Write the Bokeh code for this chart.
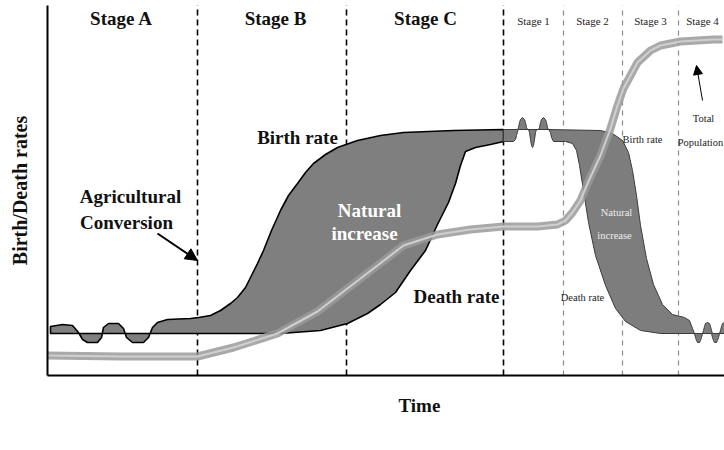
import numpy as np
from bokeh.plotting import figure
from bokeh.models import Range1d, Arrow, NormalHead, Title
from bokeh.core.properties import value
from bokeh.embed import file_html
from bokeh.resources import INLINE

# ---------------- data (time units / rate units) ----------------
major_stage_bounds = [150, 299, 456]
minor_stage_bounds = [516, 575, 631]
major_stage_names = ["Stage A", "Stage B", "Stage C"]
minor_stage_names = ["Stage 1", "Stage 2", "Stage 3", "Stage 4"]

# Left diagram (stages A-C)
birth_left_t = [3, 15, 25, 31, 35, 40, 50, 54, 56, 61, 71, 76, 79, 85, 96, 101, 105, 110, 120, 143,
                151, 163, 173, 183, 190, 198, 203, 210, 216, 224, 233, 241, 250, 258, 266, 278, 290,
                310, 333, 356, 406, 456]
birth_left_r = [49, 51, 50, 43, 36, 33, 33, 38, 48, 52, 52, 47, 38, 33, 33, 38, 48, 53, 56, 57,
                58, 60, 65, 72, 78, 88, 98, 112, 125, 145, 165, 180, 192, 203, 212, 221, 228,
                235, 240, 243, 245, 246]
death_left_t = [3, 153, 233, 273, 300, 320, 333, 348, 363, 378, 390, 401, 408, 413, 418, 428, 443, 456]
death_left_r = [42, 42, 42, 45, 52, 62, 71, 83, 105, 125, 151, 173, 192, 210, 224, 228, 231, 234]

# Right diagram (stages 1-4)
birth_right_t = [456, 470, 471, 472, 473, 475, 477, 478, 479, 480, 491, 492, 493, 494, 496, 498, 499,
                 500, 501, 553, 565, 575, 581, 585, 589, 593, 599, 606, 615, 625, 637, 642, 645, 647,
                 655, 656, 657, 658, 660, 662, 663, 664, 665, 672, 673, 674, 675, 677]
birth_right_r = [246, 246, 248, 253, 256, 258, 256, 253, 248, 246, 246, 248, 253, 256, 258, 256, 253,
                 248, 246, 245, 242, 235, 223, 205, 180, 150, 117, 91, 71, 61, 58, 55, 47, 42,
                 42, 45, 49, 52, 53, 52, 49, 45, 42, 42, 45, 49, 52, 53]
death_right_t = [456, 466, 468, 469, 470, 471, 481, 482, 483, 484, 485, 486, 487, 488, 489, 501, 503,
                 504, 506, 518, 525, 529, 532, 536, 541, 548, 558, 568, 578, 593, 613, 647, 648, 649,
                 650, 652, 653, 654, 655, 664, 665, 666, 667, 669, 670, 671, 672, 677]
death_right_r = [234, 234, 236, 240, 244, 246, 246, 243, 236, 230, 228, 230, 236, 243, 246, 246, 243,
                 238, 234, 234, 232, 225, 210, 185, 153, 120, 90, 67, 54, 45, 42, 42, 38, 35,
                 33, 33, 35, 38, 42, 42, 38, 35, 33, 33, 35, 38, 42, 42]

# Total population
pop_t = [0, 73, 150, 186, 230, 270, 313, 356, 390, 423, 456, 490, 510, 518, 525, 533, 540, 553,
         563, 570, 576, 590, 603, 613, 633, 666, 675]
pop_r = [20, 19, 19, 28, 42, 64, 97, 130, 141, 146, 149, 149, 151, 155, 163, 175, 192, 220,
         247, 270, 287, 313, 325, 330, 334, 336, 336]

# ---------------- figure ----------------
FONT = "Liberation Serif"
serif = value(FONT)

p = figure(width=724, height=446, x_range=Range1d(0, 677), y_range=Range1d(0, 370),
           output_backend="svg", toolbar_location=None,
           min_border_left=47, min_border_right=0, min_border_top=5, min_border_bottom=71)
p.outline_line_color = None
p.grid.visible = False
p.background_fill_color = "white"
for ax in (p.xaxis[0], p.yaxis[0]):
    ax.major_tick_line_color = None
    ax.minor_tick_line_color = None
    ax.major_tick_out = 0
    ax.major_tick_in = 0
    ax.major_label_standoff = 0
    ax.major_label_text_font_size = "0px"
    ax.major_label_text_color = None
    ax.axis_line_color = "black"
    ax.axis_line_width = 2

p.yaxis.axis_label = "Birth/Death rates"
p.yaxis.axis_label_text_font = FONT
p.yaxis.axis_label_text_font_style = "bold"
p.yaxis.axis_label_text_font_size = "20px"
p.yaxis.axis_label_text_color = "#111111"
p.yaxis.axis_label_standoff = 13

p.add_layout(Title(text="Time", align="left", offset=351, text_font=FONT, text_font_style="bold",
                   text_font_size="19px", text_color="#111111", standoff=26), "below")

# stage boundary dashed lines
p.segment(x0=major_stage_bounds, y0=[0] * 3, x1=major_stage_bounds, y1=[372] * 3,
          line_color="black", line_width=1.6, line_dash="6 4")
p.segment(x0=minor_stage_bounds, y0=[0] * 3, x1=minor_stage_bounds, y1=[372] * 3,
          line_color="#8a8a8a", line_width=1.2, line_dash="5 5")

# natural increase areas
left_x = list(birth_left_t) + list(death_left_t[::-1])
left_y = list(birth_left_r) + list(death_left_r[::-1])
p.patch(left_x, left_y, fill_color="#7f7f7f", line_color="black", line_width=1.6)

right_x = list(birth_right_t) + list(death_right_t[::-1])
right_y = list(birth_right_r) + list(death_right_r[::-1])
p.patch(right_x, right_y, fill_color="#7d7d7d", line_color="#3c3c3c", line_width=1)

# total population band
p.line(pop_t, pop_r, line_color="#9a9a9a", line_width=8, line_alpha=0.85)
p.line(pop_t, pop_r, line_color="#cfcfcf", line_width=2)

# ---------------- texts ----------------
p.text(x=[74, 228, 378], y=[357, 357, 357], text=major_stage_names, text_font=serif,
       text_font_style="bold", text_font_size="19px", text_align="center", text_baseline="middle",
       text_color="#111111")
p.text(x=[486, 545, 603, 655], y=[355, 355, 355, 355], text=minor_stage_names, text_font=serif,
       text_font_size="11px", text_align="center", text_baseline="middle", text_color="#222222")

p.text(x=[250, 83, 79, 409], y=[238, 179, 153, 79],
       text=["Birth rate", "Agricultural", "Conversion", "Death rate"], text_font=serif,
       text_font_style="bold", text_font_size="19px", text_align="center", text_baseline="middle",
       text_color="#111111")
p.text(x=[322, 317], y=[165, 142], text=["Natural", "increase"], text_font=serif,
       text_font_style="bold", text_font_size="19px", text_align="center", text_baseline="middle",
       text_color="white")

p.text(x=[595, 535, 656, 653], y=[236, 78, 257, 233],
       text=["Birth rate", "Death rate", "Total", "Population"], text_font=serif,
       text_font_size="10.5px", text_align="center", text_baseline="middle", text_color="#222222")
p.text(x=[569, 567], y=[163, 140], text=["Natural", "increase"], text_font=serif,
       text_font_size="10.5px", text_align="center", text_baseline="middle", text_color="#eeeeee")

# arrows
p.add_layout(Arrow(x_start=110, y_start=142, x_end=150, y_end=115, line_color="black", line_width=2,
                   end=NormalHead(size=12, fill_color="black", line_color="black")))
p.add_layout(Arrow(x_start=655, y_start=275, x_end=649, y_end=310, line_color="black", line_width=1,
                   end=NormalHead(size=9, fill_color="black", line_color="black")))

open("out.html", "w").write(file_html(p, INLINE))
